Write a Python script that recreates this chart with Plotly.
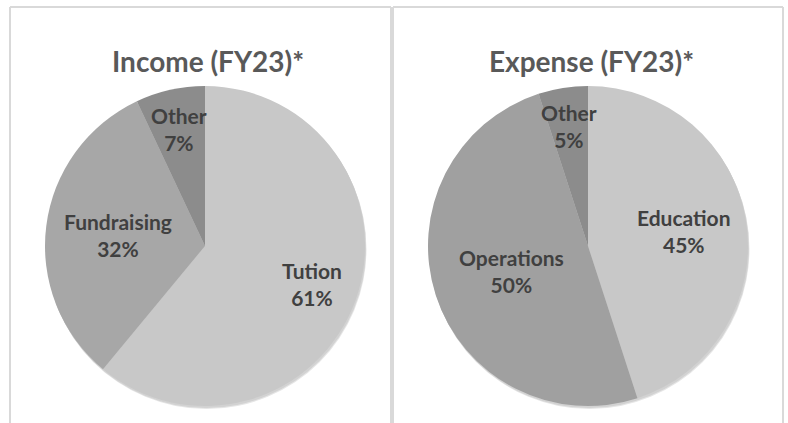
import math
import plotly.graph_objects as go

W, H = 788, 423

# ---- data ----
income_labels = ["Tution", "Fundraising", "Other"]
income_values = [61, 32, 7]
expense_labels = ["Education", "Operations", "Other"]
expense_values = [45, 50, 5]
chart_titles = ["Income", "Expense"]
title_suffix = "(FY23)*"

# ---- styles ----
income_colors = ["#c8c8c8", "#a7a7a7", "#8c8c8c"]
expense_colors = ["#c8c8c8", "#a0a0a0", "#8c8c8c"]
income_label_r = [0.71, 0.545, 0.75]
expense_label_r = [0.61, 0.50, 0.76]
pies = [dict(cx=205, cy=246, r=160), dict(cx=588, cy=246, r=160)]
panels = [(10, 391), (393, 783)]
panel_top = 7
FONT = "Lato"


def px(x):
    return x / W


def py(y):
    return 1 - y / H


fig = go.Figure()
annotations = []
shapes = []

series = [
    (income_labels, income_values, income_colors, income_label_r),
    (expense_labels, expense_values, expense_colors, expense_label_r),
]

for i, (labels, values, colors, lr) in enumerate(series):
    p = pies[i]
    # soft drop shadow under the pie
    for off, col in [(3, "#e6e6e6"), (2, "#d2d2d2")]:
        shapes.append(dict(type="circle", xref="paper", yref="paper",
                           x0=px(p["cx"] - p["r"] + off / 2), x1=px(p["cx"] + p["r"] + off / 2),
                           y0=py(p["cy"] + p["r"] + off), y1=py(p["cy"] - p["r"] + off),
                           fillcolor=col, line=dict(width=0), layer="below"))
    fig.add_trace(go.Pie(
        labels=labels, values=values, sort=False, direction="clockwise",
        rotation=0, marker=dict(colors=colors, line=dict(width=0)),
        textinfo="none", hoverinfo="label+percent", showlegend=False,
        domain=dict(x=[px(p["cx"] - p["r"]), px(p["cx"] + p["r"])],
                    y=[py(p["cy"] + p["r"]), py(p["cy"] - p["r"])]),
    ))
    total = sum(values)
    cum = 0
    for lab, v, k in zip(labels, values, lr):
        mid = (cum + v / 2) / total * 2 * math.pi
        cum += v
        x = p["cx"] + k * p["r"] * math.sin(mid)
        y = p["cy"] - k * p["r"] * math.cos(mid)
        annotations.append(dict(
            x=px(x), y=py(y), xref="paper", yref="paper",
            text=f"<b>{lab}<br>{round(v / total * 100)}%</b>",
            showarrow=False, xanchor="center", yanchor="middle",
            font=dict(family=FONT, size=21, color="#404040"),
        ))
    annotations.append(dict(
        x=px(p["cx"] + 3), y=py(61), xref="paper", yref="paper",
        text=f"<b>{chart_titles[i]} {title_suffix}</b>",
        showarrow=False, xanchor="center", yanchor="middle",
        font=dict(family=FONT, size=28, color="#595959"),
    ))

for x0, x1 in panels:
    for (ax0, ay0, ax1, ay1) in [(x0, panel_top, x1, panel_top),
                                 (x0, panel_top, x0, H + 20),
                                 (x1, panel_top, x1, H + 20)]:
        shapes.append(dict(type="line", xref="paper", yref="paper",
                           x0=px(ax0), y0=py(ay0), x1=px(ax1), y1=py(ay1),
                           line=dict(color="#d9d9d9", width=2), layer="below"))

fig.update_layout(
    width=W, height=H, margin=dict(l=0, r=0, t=0, b=0),
    paper_bgcolor="white", plot_bgcolor="white",
    annotations=annotations, shapes=shapes,
)

fig.write_html("out.html", config={"displayModeBar": False},
               post_script="document.body.style.margin='0';document.body.style.overflow='hidden';")
